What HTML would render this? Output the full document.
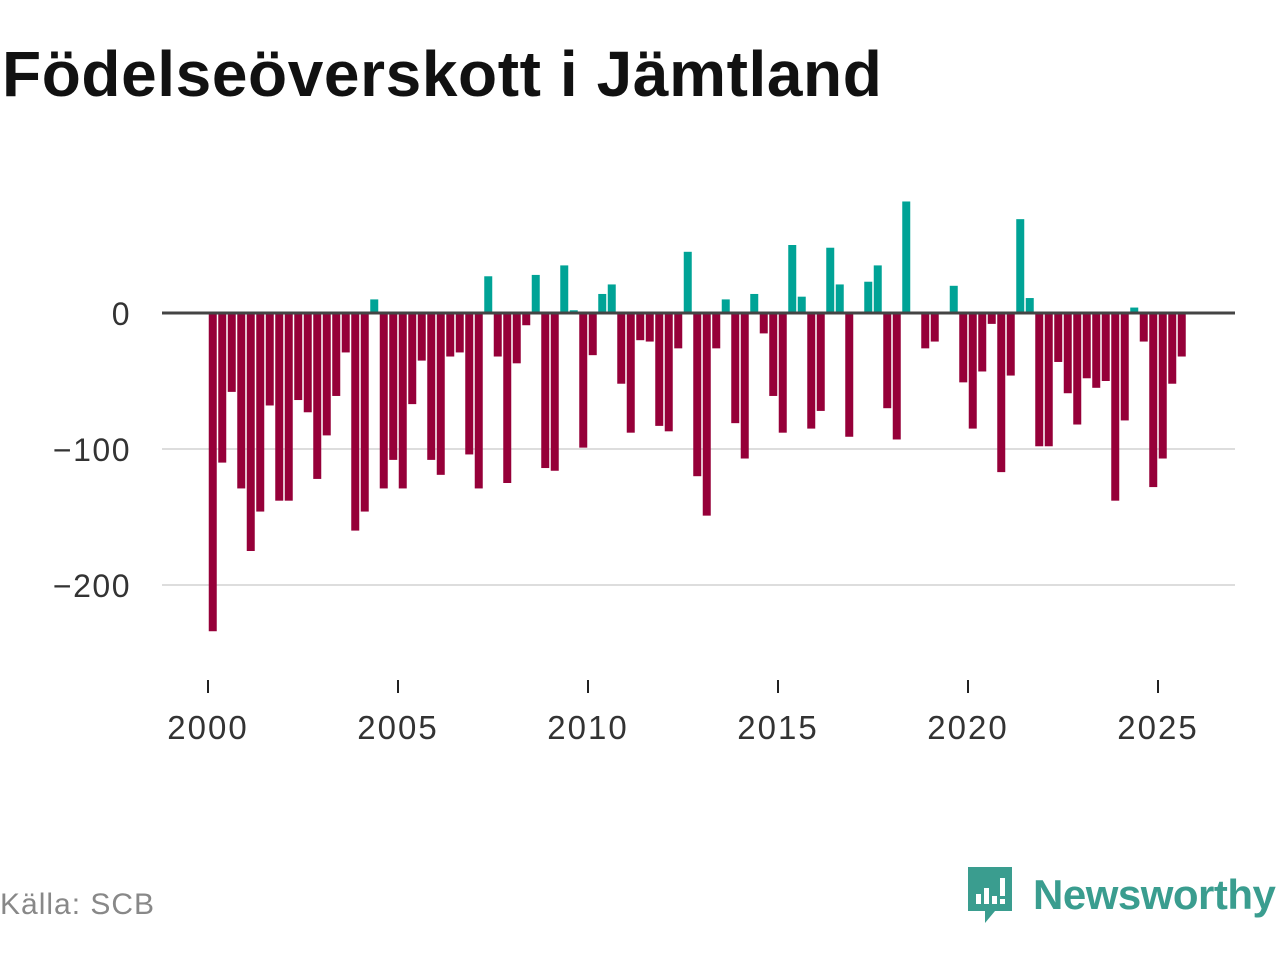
<!DOCTYPE html>
<html><head><meta charset="utf-8"><style>
body{margin:0;width:1280px;height:960px;background:#fff;font-family:"Liberation Sans",sans-serif;overflow:hidden}
h1{position:absolute;left:2px;top:38px;margin:0;font-size:64px;line-height:72px;font-weight:bold;color:#111;letter-spacing:0.6px}
</style></head><body>
<h1>Födelseöverskott i Jämtland</h1>
<svg id="chart" width="1280" height="960" style="position:absolute;left:0;top:0"></svg>
<script>
const values=[-234,-110,-58,-129,-175,-146,-68,-138,-138,-64,-73,-122,-90,-61,-29,-160,-146,10,-129,-108,-129,-67,-35,-108,-119,-32,-29,-104,-129,27,-32,-125,-37,-9,28,-114,-116,35,2,-99,-31,14,21,-52,-88,-20,-21,-83,-87,-26,45,-120,-149,-26,10,-81,-107,14,-15,-61,-88,50,12,-85,-72,48,21,-91,0,23,35,-70,-93,82,1,-26,-21,0,20,-51,-85,-43,-8,-117,-46,69,11,-98,-98,-36,-59,-82,-48,-55,-50,-138,-79,4,-21,-128,-107,-52,-32];
const startYear=2000;
const yTicks=[0,-100,-200];
const xTicks=[2000,2005,2010,2015,2020,2025];
const NS='http://www.w3.org/2000/svg';
const svg=document.getElementById('chart');
const x=t=>208+(t-startYear)*38;
const y=v=>313-v*1.36;
function mk(tag,attrs){const e=document.createElementNS(NS,tag);for(const k in attrs)e.setAttribute(k,attrs[k]);svg.appendChild(e);return e;}
yTicks.forEach(t=>{
  if(t!==0){const g=mk('line',{x1:162,x2:1235,y1:y(t),y2:y(t),stroke:'#ddd','stroke-width':2});
  
  }
  const l=mk('text',{x:131,y:y(t)+12,'text-anchor':'end','font-size':32,fill:'#333','letter-spacing':1.5,'font-family':'Liberation Sans, sans-serif'});
  l.textContent=t<0?'\u2212'+Math.abs(t):String(t);
  
  
});
values.forEach((v,i)=>{
  const cx=x(startYear+(i+0.5)/4);
  const r=mk('rect',{x:cx-4,y:Math.min(y(v),y(0)),width:8,height:Math.abs(y(v)-y(0)),fill:v>=0?'#00a396':'#960039'});
  
  
});
const z=mk('line',{x1:162,x2:1235,y1:y(0),y2:y(0),stroke:'#444','stroke-width':3});


xTicks.forEach(t=>{
  const tk=mk('line',{x1:x(t),x2:x(t),y1:680,y2:693,stroke:'#222','stroke-width':2});
  
  
  const l=mk('text',{x:x(t),y:739,'text-anchor':'middle','font-size':33,fill:'#333','letter-spacing':2,'font-family':'Liberation Sans, sans-serif'});
  l.textContent=t;
  
  
});
</script>
<div style="position:absolute;left:0;top:888px;font-size:30px;color:#888;letter-spacing:1px">Källa: SCB</div>
<div style="position:absolute;left:965px;top:864px;display:flex;align-items:center">
<svg width="50" height="62" viewBox="0 0 50 62"><path d="M3 3h44v44H30l-10 12V47H3z" fill="#3a9d8f"/><rect x="11" y="30" width="5" height="10" fill="#fff"/><rect x="19" y="24" width="5" height="16" fill="#fff"/><rect x="27" y="32" width="5" height="8" fill="#fff"/><rect x="35" y="14" width="5" height="18" fill="#fff"/><rect x="35" y="35" width="5" height="5" fill="#fff"/></svg>
<span style="font-size:42px;color:#3a9d8f;font-weight:bold;margin-left:18px;letter-spacing:-0.5px">Newsworthy</span></div>
</body></html>
